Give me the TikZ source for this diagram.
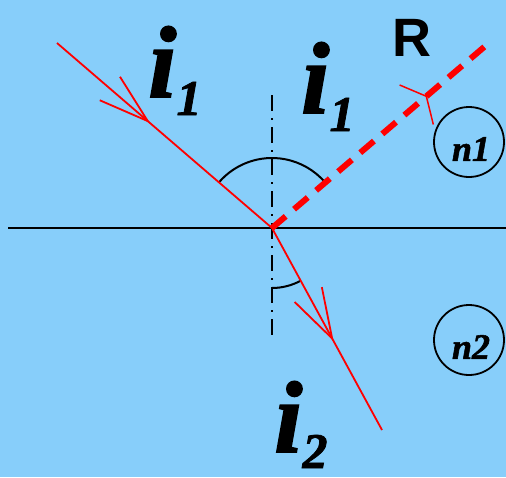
\documentclass[tikz,border=0pt]{standalone}
\usepackage{fontspec}
\newfontfamily\symfont{Liberation Serif}[FakeBold=1.5]
\newfontfamily\sanslbl{Liberation Sans}
\usetikzlibrary{arrows.meta, decorations.markings, calc}
\definecolor{skyback}{RGB}{135,206,250}

% lowered index after the big letter
\newcommand{\lowidx}[2]{\raisebox{-#1}{\fontsize{50}{50}\selectfont #2}}

\begin{document}
\begin{tikzpicture}[
    x=1pt, y=-1pt,
    % --- ray styles ---
    rayline/.style={draw=red, line width=1.8pt},
    reflray/.style={draw=red, line width=6pt, dash pattern=on 18pt off 11pt},
    raytip/.style={decoration={markings, mark=at position #1 with
        {\arrow{Straight Barb[length=50pt, width=31pt, line width=1.8pt]}}},
        postaction={decorate}},
    refltip/.style={decoration={markings, mark=at position #1 with
        {\arrow{Straight Barb[length=13pt, width=52pt, line width=1.5pt]}}},
        postaction={decorate}},
    % --- other styles ---
    surface/.style={draw=black, line width=2.5pt},
    normline/.style={draw=black, line width=1.5pt,
        dash pattern=on 16pt off 7pt on 2pt off 7pt},
    anglearc/.style={draw=black, line width=2pt},
    medium/.style={circle, draw=black, line width=1.8pt, minimum size=70pt,
        inner sep=0pt},
    medtxt/.style={inner sep=0pt, xshift=2pt, yshift=-7pt,
        font=\symfont\fontsize{36}{36}\selectfont\bfseries\itshape},
    symlbl/.style={inner sep=0pt, anchor=base west,
        font=\symfont\fontsize{102}{102}\selectfont\bfseries\itshape},
    rlbl/.style={inner sep=0pt, font=\sanslbl\bfseries\fontsize{54}{54}\selectfont},
]

% ---- background and frame ----
\fill[skyback] (0,0) rectangle (506,477);
\useasboundingbox (0,0) rectangle (506,477);

% ---- points ----
\coordinate (O) at (272,228);
\coordinate (src) at (57,43);
\coordinate (refl) at (490,42);
\coordinate (refr) at (382,430);
\coordinate (sL) at (8,228);
\coordinate (sR) at (506,228);
\coordinate (nTop) at (272,95);
\coordinate (nBot) at (272,337);

% ---- surface and normal ----
\draw[surface] (sL) -- (sR);
\draw[normline] (nTop) -- (nBot);

% ---- angle arcs ----
\draw[anglearc] ($(O)+(-139.3:70)$) arc[start angle=-139.3, end angle=-40.5, radius=70];
\draw[anglearc] ($(O)+(90:60)$) arc[start angle=90, end angle=61.4, radius=60];

% ---- rays ----
\draw[rayline, raytip=0.433] (src) -- (O);
\draw[rayline, raytip=0.56] (O) -- (refr);
\draw[reflray, refltip=0.711] (O) -- (refl);

% ---- media ----
\node[medium, label={[medtxt]center:n1}] (med1) at (469,142) {};
\node[medium, label={[medtxt]center:n2}] (med2) at (469,340) {};

% ---- labels ----
\node[symlbl] (iin) at (148,97) {i\lowidx{18pt}{1}};
\node[symlbl] (iout) at (301,113) {i\lowidx{18pt}{1}};
\node[symlbl] (itr) at (274,452) {i\lowidx{16pt}{2}};
\node[rlbl] (rlab) at (412,38) {R};

\end{tikzpicture}
\end{document}
